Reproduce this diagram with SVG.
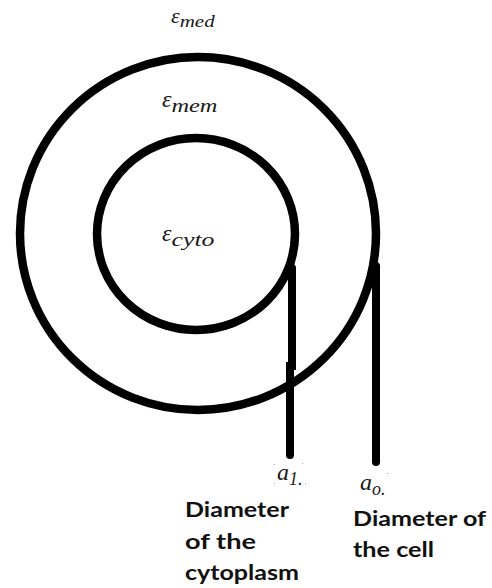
<svg xmlns="http://www.w3.org/2000/svg" width="492" height="588" viewBox="0 0 492 588">
<defs>
<style>
.ring{fill:none;stroke:#000;stroke-width:8.5}
.lead{fill:none;stroke:#000;stroke-width:8;stroke-linecap:round}
.eps{font-family:"Liberation Serif","DejaVu Serif",serif;font-style:italic;fill:#1a1a1a}
.cap{font-family:Lato,"Liberation Sans",sans-serif;font-weight:bold;font-size:21px;fill:#111}
.dot{fill:#8fb4e0}
</style>
</defs>
<rect width="492" height="588" fill="#fff"/>
<g id="medium">
<text class="eps" x="171" y="23" font-size="22">ε<tspan font-size="17" dy="4" textLength="35" lengthAdjust="spacingAndGlyphs">med</tspan></text>
</g>
<g id="cell">
<ellipse class="ring" cx="198" cy="233.5" rx="178" ry="176.5"/>
<text class="eps" x="162" y="107" font-size="24">ε<tspan font-size="19" dy="5" textLength="46" lengthAdjust="spacingAndGlyphs">mem</tspan></text>
</g>
<g id="cytoplasm">
<ellipse class="ring" cx="196" cy="234" rx="99" ry="96"/>
<text class="eps" x="162" y="241" font-size="24">ε<tspan font-size="19" dy="5" textLength="43" lengthAdjust="spacingAndGlyphs">cyto</tspan></text>
</g>
<g id="connectors">
<path class="lead" d="M292 268 L292 366 L290 366 L290 455"/>
<path class="lead" d="M376 266 L376 462"/>
</g>
<g id="label-a1">
<rect class="dot" x="274" y="464" width="1" height="1"/>
<rect class="dot" x="274" y="483" width="1" height="1"/>
<rect class="dot" x="302" y="463" width="1" height="1"/>
<rect class="dot" x="305" y="483" width="1" height="1"/>
<text class="eps" x="277" y="480" font-size="24">a<tspan font-size="18" dy="5">1.</tspan></text>
<text class="cap" x="185" y="517" textLength="104" lengthAdjust="spacingAndGlyphs">Diameter</text>
<text class="cap" x="185" y="549" textLength="71" lengthAdjust="spacingAndGlyphs">of the</text>
<text class="cap" x="185" y="580" textLength="114" lengthAdjust="spacingAndGlyphs">cytoplasm</text>
</g>
<g id="label-ao">
<rect class="dot" x="387" y="473" width="1" height="1"/>
<text class="eps" x="360" y="490" font-size="24">a<tspan font-size="18" dy="5">o.</tspan></text>
<text class="cap" x="353" y="526" textLength="133" lengthAdjust="spacingAndGlyphs">Diameter of</text>
<text class="cap" x="353" y="557" textLength="81" lengthAdjust="spacingAndGlyphs">the cell</text>
</g>
</svg>
